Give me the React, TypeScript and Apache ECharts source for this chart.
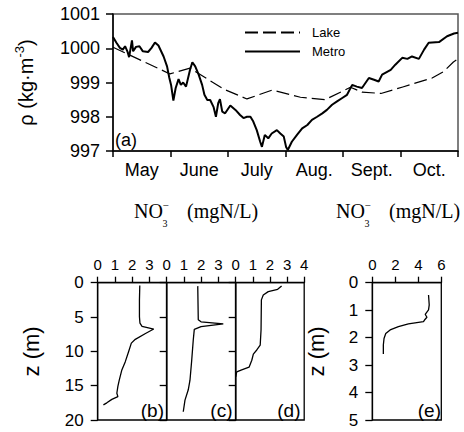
import React, { useEffect, useRef } from 'react';
import * as echarts from 'echarts';

const months = ['May', 'June', 'July', 'Aug.', 'Sept.', 'Oct.'];

// [month offset from 1 May (0..6), density kg/m3]
const lake = [
  [0, 1000.03], [0.99, 999.25], [1.34, 999.42], [1.92, 998.81], [2.33, 998.52],
  [2.77, 998.78], [3.26, 998.57], [3.69, 998.5], [4.13, 998.86], [4.33, 998.72],
  [4.66, 998.68], [5.04, 998.87], [5.55, 999.13], [5.75, 999.32], [5.92, 999.6], [6.0, 999.69],
];

const metro = [
  [0.0, 1000.33], [0.06, 1000.16], [0.12, 1000.01], [0.17, 999.96], [0.21, 1000.06], [0.25, 999.91],
  [0.28, 999.74], [0.33, 1000.23], [0.35, 999.91], [0.4, 1000.04], [0.46, 1000.06], [0.52, 999.91],
  [0.61, 999.89], [0.67, 1000.01], [0.73, 1000.17], [0.79, 1000.08], [0.88, 999.76], [0.94, 999.47],
  [0.98, 999.13], [1.01, 998.93], [1.05, 998.47], [1.09, 998.84], [1.14, 999.1], [1.18, 998.93],
  [1.22, 999.0], [1.27, 998.88], [1.34, 999.37], [1.38, 999.59], [1.43, 999.47], [1.49, 999.23],
  [1.55, 998.93], [1.59, 998.64], [1.64, 998.49], [1.69, 998.49], [1.75, 998.28], [1.79, 998.0],
  [1.83, 998.4], [1.86, 998.51], [1.9, 998.15], [1.95, 998.1], [2.04, 998.33], [2.13, 998.2],
  [2.21, 998.05], [2.27, 997.96], [2.33, 998.0], [2.39, 998.0], [2.44, 997.86], [2.5, 997.61],
  [2.56, 997.27], [2.59, 997.12], [2.64, 997.47], [2.7, 997.37], [2.76, 997.51], [2.85, 997.61],
  [2.91, 997.51], [2.97, 997.42], [3.01, 997.12], [3.04, 997.03], [3.11, 997.27], [3.2, 997.47],
  [3.29, 997.66], [3.38, 997.76], [3.46, 997.91], [3.55, 998.0], [3.64, 998.1], [3.72, 998.2],
  [3.81, 998.35], [3.89, 998.44], [3.98, 998.54], [4.07, 998.64], [4.16, 998.93], [4.24, 998.88],
  [4.33, 998.84], [4.45, 999.13], [4.54, 999.08], [4.62, 999.03], [4.68, 999.23], [4.83, 999.37],
  [4.91, 999.52], [5.03, 999.72], [5.12, 999.69], [5.2, 999.76], [5.32, 999.69], [5.41, 999.96],
  [5.49, 1000.16], [5.67, 1000.18], [5.81, 1000.35], [5.93, 1000.43], [6.0, 1000.45],
];

// [NO3- (mgN/L), depth z (m)]
const profileB = [
  [2.44, 0.4], [2.42, 2.5], [2.42, 4.95], [2.45, 5.9], [2.57, 6.35], [3.25, 6.75], [2.77, 7.4],
  [2.18, 8.25], [1.95, 8.8], [1.79, 10.05], [1.6, 11.5], [1.4, 12.7], [1.25, 14.2], [1.17, 15.1],
  [1.11, 16.1], [1.17, 16.6], [0.82, 17.0], [0.53, 17.5], [0.33, 17.8],
];
const profileC = [
  [1.8, 0.5], [1.83, 5.4], [1.99, 5.7], [3.28, 6.0], [1.99, 6.4], [1.6, 6.8], [1.54, 8.35],
  [1.45, 11.3], [1.35, 14.2], [1.25, 15.6], [1.06, 17.1], [0.96, 18.8],
];
const profileD = [
  [2.68, 0.48], [2.45, 0.97], [1.9, 1.3], [1.61, 1.8], [1.5, 2.5], [1.48, 6.9], [1.43, 9.1],
  [1.23, 9.8], [1.03, 10.4], [0.94, 11.3], [0.78, 12.3], [0.35, 12.7], [0.06, 13.0], [0.0, 13.7],
];
const profileE = [
  [4.89, 0.45], [4.95, 0.81], [4.89, 0.99], [4.6, 1.15], [4.75, 1.26], [4.54, 1.36], [4.45, 1.42],
  [3.14, 1.5], [2.27, 1.6], [1.55, 1.72], [1.17, 1.85], [1.02, 2.03], [0.96, 2.27], [0.96, 2.6],
];

const panelLabels = ['(a)', '(b)', '(c)', '(d)', '(e)'];
const unitLabel = '(mgN/L)';

const SANS = '"Liberation Sans", Arial, Helvetica, sans-serif';
const SERIF = '"Liberation Serif", "Times New Roman", serif';
const BLACK = '#000';

export default function App() {
  const ref = useRef<HTMLDivElement>(null);

  useEffect(() => {
    document.body.style.margin = '0';
    const chart = echarts.init(ref.current as HTMLDivElement, null, { renderer: 'svg' });

    const axisLine = { show: true, lineStyle: { color: BLACK, width: 1.3 } };
    const tickStyle = { color: BLACK, width: 1.3 };
    const plain = (v: number) => String(v);

    const panels = [
      { left: 97.7, width: 69, max: 4, interval: 1, zMax: 20, zInt: 5, hideMax: true, showY: true, data: profileB },
      { left: 166.7, width: 69, max: 4, interval: 1, zMax: 20, zInt: 5, hideMax: true, showY: false, data: profileC },
      { left: 235.7, width: 68.5, max: 4, interval: 1, zMax: 20, zInt: 5, hideMax: false, showY: false, data: profileD },
      { left: 372.3, width: 69, max: 6, interval: 2, zMax: 5, zInt: 1, hideMax: false, showY: true, data: profileE },
    ];

    const grids: any[] = [
      { left: 113, top: 14, width: 345, height: 137, show: true, borderColor: '#555', borderWidth: 1.5 },
    ];
    const xAxes: any[] = [
      {
        type: 'category', gridIndex: 0, data: months, boundaryGap: true, position: 'bottom',
        axisLine: { show: true, lineStyle: { color: BLACK, width: 1.5 } },
        axisTick: { show: true, length: 6, lineStyle: { color: BLACK, width: 1.5 } },
        axisLabel: { color: BLACK, fontSize: 18, fontFamily: SANS, margin: 10 },
      },
      { type: 'value', gridIndex: 0, min: 0, max: 6, show: false, splitLine: { show: false } },
    ];
    const yAxes: any[] = [
      {
        type: 'value', gridIndex: 0, min: 997, max: 1001, interval: 1,
        axisLine: { show: true, lineStyle: { color: BLACK, width: 1.5 } },
        axisTick: { show: true, length: 7, lineStyle: { color: BLACK, width: 1.5 } },
        splitLine: { show: false },
        axisLabel: { color: BLACK, fontSize: 18, fontFamily: SANS, margin: 13, formatter: plain },
        name: '{a|ρ (kg·m}{s|-3}{a|)}',
        nameLocation: 'middle',
        nameGap: 74,
        nameTextStyle: {
          rich: {
            a: { fontSize: 20, fontFamily: SANS, color: BLACK, lineHeight: 26 },
            s: { fontSize: 13, fontFamily: SANS, color: BLACK, verticalAlign: 'top', lineHeight: 26 },
          },
        },
      },
    ];
    const series: any[] = [
      {
        type: 'line', name: 'Lake', xAxisIndex: 1, yAxisIndex: 0, data: lake, symbol: 'none',
        color: BLACK,
        lineStyle: { color: BLACK, width: 1.2, type: [13, 5] },
      },
      {
        type: 'line', name: 'Metro', xAxisIndex: 1, yAxisIndex: 0, data: metro, symbol: 'none',
        color: BLACK,
        lineStyle: { color: BLACK, width: 2 },
      },
    ];

    panels.forEach((p, i) => {
      const gi = i + 1;
      grids.push({
        left: p.left, top: 282.7, width: p.width, height: 137.3,
        show: true, borderColor: BLACK, borderWidth: 1.3,
      });
      xAxes.push({
        type: 'value', gridIndex: gi, position: 'top', min: 0, max: p.max, interval: p.interval,
        axisLine, axisTick: { show: true, length: 6, lineStyle: tickStyle },
        splitLine: { show: false },
        axisLabel: {
          color: BLACK, fontSize: 15, fontFamily: SANS, margin: 11,
          showMaxLabel: !p.hideMax, formatter: plain,
        },
      });
      yAxes.push({
        type: 'value', gridIndex: gi, inverse: true, min: 0, max: p.zMax, interval: p.zInt,
        axisLine, axisTick: { show: true, length: 7, lineStyle: tickStyle },
        splitLine: { show: false },
        axisLabel: {
          show: p.showY, color: BLACK, fontSize: 17, fontFamily: SANS, margin: 14, formatter: plain,
        },
        name: p.showY ? 'z (m)' : '',
        nameLocation: 'middle',
        nameGap: i === 3 ? 45 : 55,
        nameTextStyle: { fontSize: 22, fontFamily: SANS, color: BLACK },
      });
      series.push({
        type: 'line', xAxisIndex: gi + 1, yAxisIndex: gi, data: p.data, symbol: 'none',
        color: BLACK,
        lineStyle: { color: BLACK, width: 1.3 },
      });
    });

    const no3Label = (x0: number) => [
      { type: 'text', x: x0, y: 211, style: { text: 'NO', font: `20px ${SERIF}`, fill: BLACK, textVerticalAlign: 'middle' } },
      { type: 'text', x: x0 + 28.5, y: 223, style: { text: '3', font: `10px ${SERIF}`, fill: BLACK, textVerticalAlign: 'middle' } },
      { type: 'text', x: x0 + 28.5, y: 205, style: { text: '−', font: `11px ${SERIF}`, fill: BLACK, textVerticalAlign: 'middle' } },
      { type: 'text', x: x0 + 53, y: 211, style: { text: unitLabel, font: `20px ${SERIF}`, fill: BLACK, textVerticalAlign: 'middle' } },
    ];

    const panelText = (t: string, x: number, y: number, size: number, align: string) => ({
      type: 'text', x, y,
      style: { text: t, font: `${size}px ${SANS}`, fill: BLACK, textAlign: align, textVerticalAlign: 'middle' },
    });

    const graphic = [
      panelText(panelLabels[0], 115, 140, 18, 'left'),
      panelText(panelLabels[1], 164, 410, 19, 'right'),
      panelText(panelLabels[2], 232.5, 410, 19, 'right'),
      panelText(panelLabels[3], 300.5, 410, 19, 'right'),
      panelText(panelLabels[4], 441, 410, 19, 'right'),
      ...no3Label(134),
      ...no3Label(336),
    ];

    chart.setOption({
      animation: false,
      backgroundColor: '#fff',
      legend: {
        data: ['Lake', 'Metro'],
        orient: 'vertical',
        left: 239,
        top: 21,
        itemWidth: 55,
        itemHeight: 12,
        itemGap: 6,
        itemStyle: { color: 'transparent', borderWidth: 0, opacity: 0 },
        textStyle: { fontSize: 13, fontFamily: SANS, color: BLACK, padding: [0, 0, 0, 7] },
      },
      grid: grids,
      xAxis: xAxes,
      yAxis: yAxes,
      series,
      graphic,
    });

    return () => chart.dispose();
  }, []);

  return <div ref={ref} style={{ width: 464, height: 432 }} />;
}
